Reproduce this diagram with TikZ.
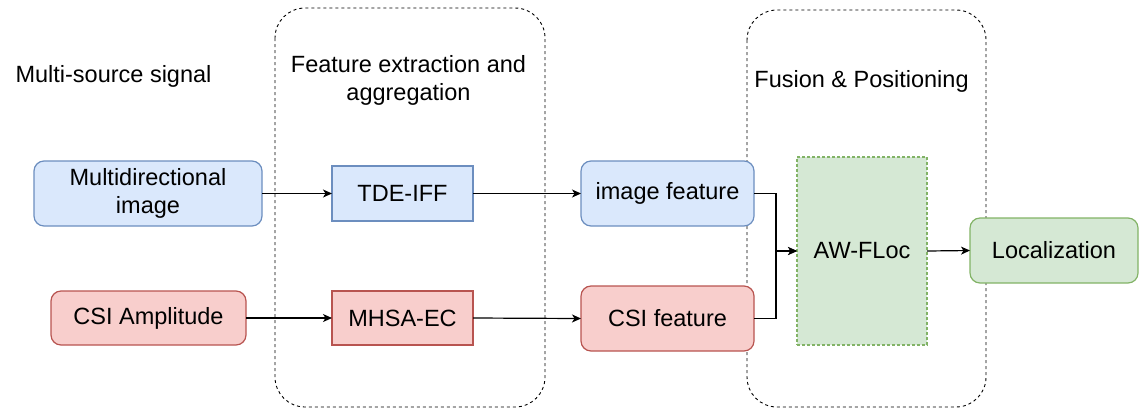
\documentclass[tikz,border=0pt]{standalone}
\usepackage{fontspec}
\setmainfont{Liberation Sans}
\usetikzlibrary{arrows.meta}
\definecolor{bfill}{HTML}{DAE8FC}
\definecolor{bdraw}{HTML}{6C8EBF}
\definecolor{rfill}{HTML}{F8CECC}
\definecolor{rdraw}{HTML}{B85450}
\definecolor{gfill}{HTML}{D5E8D4}
\definecolor{gdraw}{HTML}{82B366}
\begin{document}
\begin{tikzpicture}[x=1pt,y=-1pt,
  every node/.style={font=\fontsize{23.5}{28}\selectfont, inner sep=0pt, outer sep=0pt},
  box/.style={draw, line width=1.2pt, align=center},
  bluebox/.style={box, draw=bdraw, fill=bfill},
  redbox/.style={box, draw=rdraw, fill=rfill},
  greenbox/.style={box, draw=gdraw, fill=gfill},
  rbox/.style={rounded corners=10pt},
  container/.style={draw=black, line width=0.9pt, dash pattern=on 3pt off 3pt, rounded corners=30pt},
  conn/.style={line width=1.2pt, -{Stealth[length=9pt,width=8pt,inset=2.5pt]}},
  label/.style={align=center}
]
\useasboundingbox (0,0) rectangle (1139,408);
% containers
\draw[container] (275,8) rectangle (545,407);
\draw[container] (747,10) rectangle (986,407);
% labels
\node[label, anchor=base] (ms) at (113.5,82) {Multi-source signal};
\node[label] (fe) at (408.5,80) {Feature extraction and\\aggregation};
\node[label, anchor=base] (fp) at (861.5,87) {Fusion \& Positioning};
% boxes
\node[bluebox, rbox, minimum width=228pt, minimum height=65pt] (multi) at (148,193.5) {Multidirectional\\image};
\node[bluebox, minimum width=141pt, minimum height=55pt] (tde) at (402.5,193.5) {TDE-IFF};
\node[redbox, rbox, minimum width=195pt, minimum height=54pt] (csia) at (148.5,318) {CSI Amplitude};
\node[redbox, minimum width=141pt, minimum height=54pt] (mhsa) at (402.5,318) {MHSA-EC};
\node[bluebox, rbox, minimum width=173pt, minimum height=65pt] (imgf) at (667.5,193.5) {image feature};
\node[redbox, rbox, minimum width=173pt, minimum height=65pt] (csif) at (667.5,318.5) {CSI feature};
\node[greenbox, dash pattern=on 3pt off 2pt, minimum width=130pt, minimum height=188pt] (awf) at (862,251) {AW-FLoc};
\node[greenbox, rbox, minimum width=168pt, minimum height=65pt] (loc) at (1054,250.5) {Localization};
% connectors
\coordinate (j) at (776,251);
\draw[conn] (multi.east) -- (tde.west);
\draw[conn] (csia.east) -- (mhsa.west);
\draw[conn] (tde.east) -- (imgf.west);
\draw[conn] (mhsa.east) -- (csif.west);
\draw[conn] (imgf.east) -| (j) -- (awf.west);
\draw[conn] (csif.east) -| (j) -- (awf.west);
\draw[conn] (awf.east) -- (loc.west);
\end{tikzpicture}
\end{document}
